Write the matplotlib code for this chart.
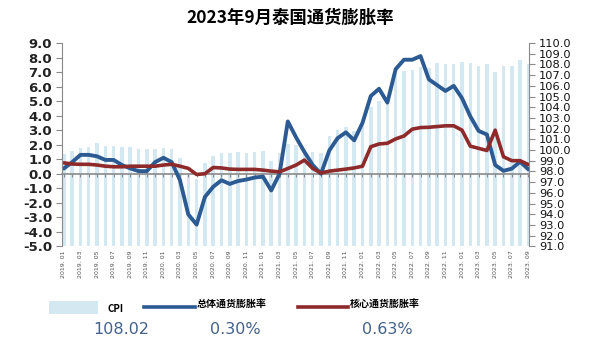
import matplotlib
matplotlib.use("Agg")
import matplotlib.pyplot as plt
from matplotlib.lines import Line2D
from matplotlib.patches import Rectangle
import numpy as np

# months 2019.01 .. 2023.09
months = [f"{y}. {m:02d}" for y in range(2019, 2024) for m in range(1, 13)][:57]

headline = [0.36, 0.8, 1.3, 1.3, 1.2, 0.95, 0.95, 0.6, 0.37, 0.18,
            0.18, 0.8, 1.1, 0.8, -0.45, -2.8, -3.5, -1.6, -0.9, -0.45,
            -0.7, -0.5, -0.4, -0.26, -0.2, -1.15, 0.0, 3.6, 2.5, 1.5,
            0.6, 0.0, 1.6, 2.45, 2.85, 2.3, 3.5, 5.35, 5.85, 4.9,
            7.2, 7.85, 7.85, 8.1, 6.5, 6.1, 5.7, 6.05, 5.2, 3.95,
            2.95, 2.7, 0.6, 0.2, 0.35, 0.83, 0.30]

core = [0.75, 0.67, 0.65, 0.65, 0.6, 0.52, 0.48, 0.48, 0.52, 0.52,
        0.52, 0.52, 0.6, 0.65, 0.52, 0.37, -0.05, 0.0, 0.43, 0.4,
        0.32, 0.3, 0.3, 0.3, 0.25, 0.18, 0.13, 0.36, 0.6, 0.94,
        0.36, 0.05, 0.18, 0.25, 0.32, 0.4, 0.52, 1.86, 2.05, 2.1,
        2.4, 2.6, 3.07, 3.18, 3.2, 3.25, 3.3, 3.3, 3.0, 1.9,
        1.75, 1.6, 3.0, 1.17, 0.9, 0.9, 0.63]

cpi = [99.6, 99.9, 100.2, 100.3, 100.7, 100.4, 100.4, 100.3, 100.3, 100.1,
       100.1, 100.1, 100.2, 100.1, 99.3, 97.8, 97.3, 98.8, 99.4, 99.7,
       99.7, 99.8, 99.7, 99.8, 99.9, 99.0, 99.7, 100.6, 100.5, 100.0,
       99.8, 99.7, 101.3, 101.9, 102.2, 101.8, 102.5, 104.0, 104.6, 104.4,
       107.1, 107.4, 107.5, 107.8, 107.7, 108.15, 108.0, 108.0, 108.25, 108.15,
       107.85, 108.0, 107.3, 107.9, 107.9, 108.45, 108.02]

left_ticks = np.arange(-5, 10, 1)
right_ticks = np.arange(91, 111, 1)

BLUE = "#2c5a92"
RED = "#8e2a2a"
BAR = "#d3e8f1"
GREY = "#8a8a8a"
VAL = "#44618c"

plt.rcParams["font.family"] = ["DejaVu Sans"]
CJK = ["Noto Sans CJK SC", "DejaVu Sans"]

fig = plt.figure(figsize=(6.0, 3.47), dpi=100)
ax = fig.add_axes([0.103, 0.290, 0.779, 0.586])
ax2 = ax.twinx()
ax.set_zorder(ax2.get_zorder() + 1)
ax.patch.set_visible(False)

x = np.arange(len(months))
ax2.bar(x, cpi, width=0.42, color=BAR, linewidth=0)
ax2.set_ylim(91, 110)
ax2.set_yticks(right_ticks)
ax2.set_yticklabels([f"{v:.1f}" for v in right_ticks], fontsize=8.2)

ax.plot(x, headline, color=BLUE, lw=2.8, solid_joinstyle="round", solid_capstyle="round")
ax.plot(x, core, color=RED, lw=2.6, solid_joinstyle="round", solid_capstyle="round")
ax.set_ylim(-5, 9)
ax.set_xlim(-0.25, 56.1)
ax.set_yticks(left_ticks)
ax.set_yticklabels([f"{v:.1f}" for v in left_ticks], fontsize=9.5, fontweight="bold")

ax.set_xticks(x[::2])
ax.set_xticklabels(months[::2], rotation=90, fontsize=4.5, color="#555555")
ax.tick_params(axis="x", length=0, pad=3)

for a in (ax, ax2):
    a.spines["top"].set_visible(False)
    a.spines["bottom"].set_visible(False)
ax2.spines["left"].set_visible(False)
ax.spines["right"].set_visible(False)
ax.spines["left"].set_color(GREY)
ax2.spines["right"].set_color(GREY)
ax.tick_params(axis="y", colors=GREY, labelcolor="#222222", length=4, pad=3)
ax2.tick_params(axis="y", colors=GREY, labelcolor="#111111", length=4, pad=3)

# zero line with monthly tick marks
zero = ax.secondary_xaxis(5 / 14)
zero.set_xticks(x)
zero.set_xticklabels([])
zero.tick_params(length=2, color=GREY, direction="out")
zero.spines["bottom"].set_color(GREY)
zero.spines["bottom"].set_linewidth(1.2)

fig.text(0.483, 0.951, "2023年9月泰国通货膨胀率", ha="center", va="center",
         fontsize=12.5, fontweight="bold", family=CJK)

# legend row
fig.add_artist(Rectangle((49 / 600, 1 - 314 / 347), 49 / 600, 13.5 / 347,
                         transform=fig.transFigure, color=BAR, lw=0))
fig.text(107 / 600, 1 - 309 / 347, "CPI", fontsize=7, fontweight="bold",
         va="center", ha="left", family=CJK)
fig.add_artist(Line2D([144 / 600, 195 / 600], [1 - 306.7 / 347] * 2,
                      transform=fig.transFigure, color=BLUE, lw=2.6))
fig.text(197 / 600, 1 - 305 / 347, "总体通货膨胀率", fontsize=7.2, fontweight="bold",
         va="center", ha="left", family=CJK)
fig.add_artist(Line2D([298 / 600, 348 / 600], [1 - 306.7 / 347] * 2,
                      transform=fig.transFigure, color=RED, lw=2.6))
fig.text(350 / 600, 1 - 305 / 347, "核心通货膨胀率", fontsize=7.2, fontweight="bold",
         va="center", ha="left", family=CJK)

fig.text(121.5 / 600, 1 - 329 / 347, f"{cpi[-1]:.2f}", fontsize=11.5, color=VAL,
         ha="center", va="center")
fig.text(235.5 / 600, 1 - 329 / 347, f"{headline[-1]:.2f}%", fontsize=11.5, color=VAL,
         ha="center", va="center")
fig.text(387.5 / 600, 1 - 329 / 347, f"{core[-1]:.2f}%", fontsize=11.5, color=VAL,
         ha="center", va="center")

fig.savefig("out.png", dpi=100)
